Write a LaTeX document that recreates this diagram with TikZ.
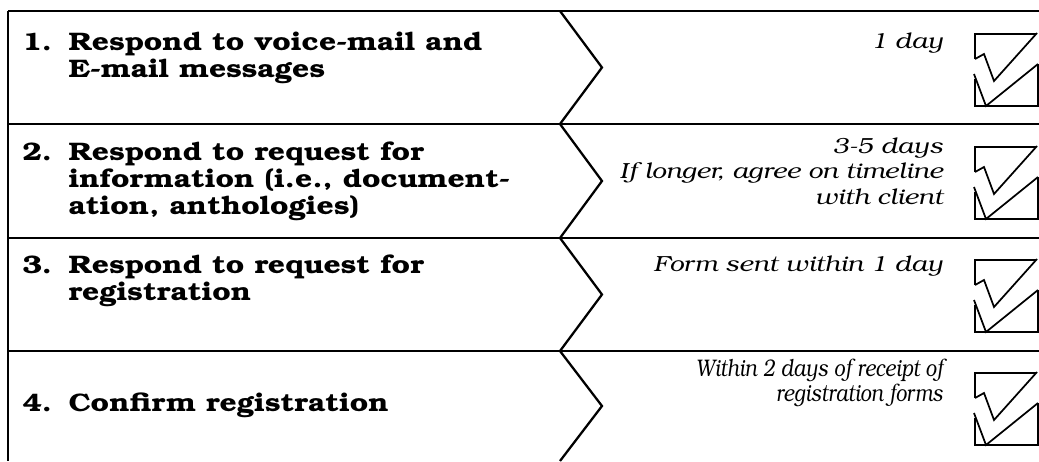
\documentclass[tikz,border=0pt]{standalone}
\usepackage[T1]{fontenc}
\usepackage{bookman}
\usepackage{tikz}
\usetikzlibrary{positioning}

\tikzset{
  rowline/.style={line width=2pt},
  chevron/.style={line width=1.7pt,line join=miter},
  tickbox/.style={line width=1.3pt,line join=miter},
  task/.style={anchor=base west,inner sep=0pt,font=\fontsize{19}{20.5}\selectfont\bfseries},
  due/.style={anchor=base east,inner sep=0pt,font=\fontsize{16.4}{19.3}\selectfont\itshape},
}

\begin{document}
\begin{tikzpicture}[x=0.75pt,y=0.75pt,yscale=-1,xscale=1]
\useasboundingbox (0,0) rectangle (1039,461);
% frame
\draw [rowline] (8,11) -- (1039,11) ;
\draw [rowline] (8,124) -- (1039,124) ;
\draw [rowline] (8,238) -- (1039,238) ;
\draw [rowline] (8,351) -- (1039,351) ;
\draw [line width=1.4pt] (8,11) -- (8,461) ;
% chevrons
\draw [chevron] (560,11) -- (602,67.5) -- (560,124) ;
\draw [chevron] (560,124) -- (602,181) -- (560,238) ;
\draw [chevron] (560,238) -- (602,294.5) -- (560,351) ;
\draw [chevron] (560,351) -- (602,406) -- (560,461) ;
% tasks
\node (task1) at (22,50) [task] {\scalebox{1.18}[1]{\begin{tabular}[t]{@{}l@{\hspace{0.55em}}l@{}}1. & Respond to voice-mail and\\ & E-mail messages\end{tabular}}};
\node (task2) at (22,160) [task] {\scalebox{1.18}[1]{\begin{tabular}[t]{@{}l@{\hspace{0.55em}}l@{}}2. & Respond to request for\\ & information (i.e., document-\\ & ation, anthologies)\end{tabular}}};
\node (task3) at (22,273) [task] {\scalebox{1.18}[1]{\begin{tabular}[t]{@{}l@{\hspace{0.55em}}l@{}}3. & Respond to request for\\ & registration\end{tabular}}};
\node (task4) at (22,411) [task] {\scalebox{1.18}[1]{\begin{tabular}[t]{@{}l@{\hspace{0.55em}}l@{}}4. & Confirm registration\end{tabular}}};
% time frames
\node (due1) at (943,48) [due] {\scalebox{1.18}[1]{1 day}};
\node (due2) at (943,153) [due] {\scalebox{1.18}[1]{\begin{tabular}[t]{@{}r@{}}3-5 days\\ If longer, agree on timeline\\ with client\end{tabular}}};
\node (due3) at (943,271) [due] {\scalebox{1.18}[1]{Form sent within 1 day}};
\node (due4) at (943,376) [due, font=\fontsize{18}{19.3}\selectfont\itshape] {\scalebox{0.82}[1]{\begin{tabular}[t]{@{}r@{}}Within 2 days of receipt of\\ registration forms\end{tabular}}};
% tick boxes
\begin{scope}[shift={(975,34)}]
\draw [tickbox] (0,25) -- (0,0) -- (61,0) ;
\draw [tickbox] (0,25) -- (9,20) -- (19,47) -- (62,-1) ;
\draw [tickbox] (-1,40) -- (11,72) -- (63,30) ;
\draw [tickbox] (0,45) -- (0,72) -- (63,72) -- (63,30) ;
\end{scope}
\begin{scope}[shift={(975,147)}]
\draw [tickbox] (0,25) -- (0,0) -- (61,0) ;
\draw [tickbox] (0,25) -- (9,20) -- (19,47) -- (62,-1) ;
\draw [tickbox] (-1,40) -- (11,72) -- (63,30) ;
\draw [tickbox] (0,45) -- (0,72) -- (63,72) -- (63,30) ;
\end{scope}
\begin{scope}[shift={(975,260)}]
\draw [tickbox] (0,25) -- (0,0) -- (61,0) ;
\draw [tickbox] (0,25) -- (9,20) -- (19,47) -- (62,-1) ;
\draw [tickbox] (-1,40) -- (11,72) -- (63,30) ;
\draw [tickbox] (0,45) -- (0,72) -- (63,72) -- (63,30) ;
\end{scope}
\begin{scope}[shift={(975,373)}]
\draw [tickbox] (0,25) -- (0,0) -- (61,0) ;
\draw [tickbox] (0,25) -- (9,20) -- (19,47) -- (62,-1) ;
\draw [tickbox] (-1,40) -- (11,72) -- (63,30) ;
\draw [tickbox] (0,45) -- (0,72) -- (63,72) -- (63,30) ;
\end{scope}
\end{tikzpicture}
\end{document}
